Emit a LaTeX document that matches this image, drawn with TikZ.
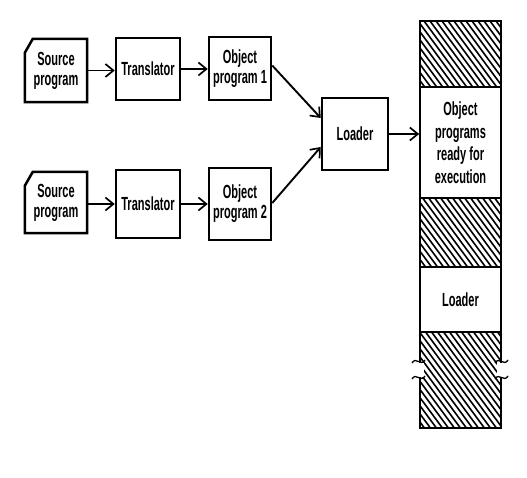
\documentclass[tikz,border=0pt]{standalone}
\usepackage{fontspec}
\setmainfont[FakeStretch=0.58]{Liberation Sans}
\usetikzlibrary{arrows.meta,calc}
\begin{document}
\begin{tikzpicture}[x=1pt,y=-1pt,
  txt/.style={inner sep=0pt, align=center, font=\fontsize{19}{20}\selectfont\bfseries},
  box/.style={txt, draw, line width=2.5pt},
  outline/.style={line width=2.5pt, line join=miter},
  conn/.style={line width=1.9pt, -{Straight Barb[length=8pt,width=13pt,line width=1.7pt]}},
  hatchline/.style={line width=1.6pt},
  membox/.style={txt, font=\fontsize{19}{22.5}\selectfont\bfseries, fill=white, draw, line width=1.6pt, minimum width=81pt},
  brk/.style={line width=1.3pt}
]
\useasboundingbox (0,0) rectangle (527,478);

% row 1
\node[txt, minimum width=62pt, minimum height=63pt] (src1) at (56,70.5) {Source\\program};
\draw[outline] ($(src1.north west)+(8,0)$) -- (src1.north east) -- (src1.south east)
  -- (src1.south west) -- ($(src1.north west)+(0,14)$) -- cycle;
\node[box, minimum width=64pt, minimum height=62pt] (tr1) at (148,69) {Translator};
\node[box, minimum width=62pt, minimum height=63pt] (obj1) at (240,68.5) {Object\\program 1};

% row 2
\node[txt, minimum width=62pt, minimum height=61pt] (src2) at (56,202.5) {Source\\program};
\draw[outline] ($(src2.north west)+(8,0)$) -- (src2.north east) -- (src2.south east)
  -- (src2.south west) -- ($(src2.north west)+(0,14)$) -- cycle;
\node[box, minimum width=64pt, minimum height=68pt] (tr2) at (148,204) {Translator};
\node[box, minimum width=62pt, minimum height=72pt] (obj2) at (240,204) {Object\\program 2};

% loader
\node[box, minimum width=66pt, minimum height=72pt] (ld) at (355,134) {Loader};

% memory column
\coordinate (colnw) at (420,21);
\coordinate (colse) at (501,428);
\begin{scope}
  \clip (colnw) rectangle (colse);
  \foreach \x in {100,106,...,501} {
    \draw[hatchline] (\x,21) -- ++(310,420);
  }
\end{scope}
\node[membox, minimum height=111pt] (objmem) at (460.5,142.5) {Object\\programs\\ready for\\execution};
\node[membox, minimum height=65pt] (ldmem) at (460.5,299.5) {Loader};
\draw[line width=2.4pt] (colnw) rectangle (colse);

% break marks
\fill[white] (416,363) rectangle (424,377);
\fill[white] (497,363) rectangle (505,377);
\draw[brk] (412,363) .. controls (416,356) and (421,367) .. (425,360);
\draw[brk] (412,379) .. controls (416,372) and (421,383) .. (425,376);
\draw[brk] (495,363) .. controls (499,356) and (504,367) .. (508,360);
\draw[brk] (495,379) .. controls (499,372) and (504,383) .. (508,376);

% connectors
\draw[conn] (src1.east) -- (src1.east -| tr1.west);
\draw[conn] (tr1.east) -- (tr1.east -| obj1.west);
\draw[conn] (src2.east |- tr2.east) -- (tr2.west);
\draw[conn] (tr2.east) -- (obj2.west);
\draw[conn] ($(obj1.east)+(0,-3)$) -- ($(ld.west)+(0,-16)$);
\draw[conn] ($(obj2.east)+(0,-1)$) -- ($(ld.west)+(0,13)$);
\draw[conn] (ld.east) -- (ld.east -| objmem.west);
\end{tikzpicture}
\end{document}
